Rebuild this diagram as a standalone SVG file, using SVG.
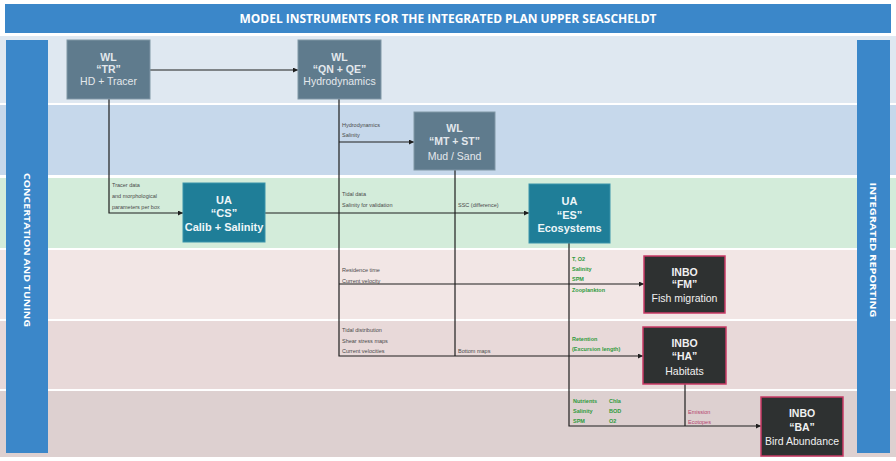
<svg xmlns="http://www.w3.org/2000/svg" width="896" height="461" viewBox="0 0 896 461">
  <defs>
    <marker id="arrow" viewBox="0 0 6 6" refX="6" refY="3" markerWidth="5" markerHeight="5" markerUnits="userSpaceOnUse" orient="auto">
      <path d="M0,0 L6,3 L0,6 Z" fill="#1e1e1e"/>
    </marker>
    <style>
      .band { stroke: none; }
      .bar { fill: #3b87c9; }
      .bar-text { font-family: "Open Sans", "Liberation Sans", sans-serif; font-weight: bold; fill: #ffffff; }
      .wl rect { fill: #5f7b8d; stroke: #8097a6; stroke-width: 1; }
      .ua rect { fill: #1f7e98; stroke: #3a93aa; stroke-width: 1; }
      .inbo rect { fill: #2e3131; stroke: #c93a65; stroke-width: 1.5; }
      .node text { font-family: "Liberation Sans", Arial, sans-serif; text-anchor: middle; font-size: 10.5px; }
      .wl text { fill: #e3e8ec; }
      .ua text { fill: #eef6f8; font-weight: bold; font-size: 11px; }
      .inbo text { fill: #f0f0f0; }
      .b { font-weight: bold; }
      .conn path { fill: none; stroke: #1e1e1e; stroke-width: 1.2; }
      .lbl { font-family: "Liberation Sans", Arial, sans-serif; font-size: 5.5px; fill: #4a4a4a; }
      .lbl.g { fill: #2f9a3c; font-weight: bold; }
      .lbl.p { fill: #b4436e; }
    </style>
  </defs>

  <!-- background -->
  <rect x="0" y="0" width="896" height="461" fill="#ffffff"/>

  <!-- horizontal swim bands -->
  <rect class="band" x="0" y="36" width="896" height="67" fill="#dfe8f1"/>
  <rect class="band" x="0" y="105" width="896" height="70" fill="#c6d8eb"/>
  <rect class="band" x="0" y="178" width="896" height="70" fill="#d3ecda"/>
  <rect class="band" x="0" y="250" width="896" height="69" fill="#f2e6e5"/>
  <rect class="band" x="0" y="321" width="896" height="68" fill="#e8d9d9"/>
  <rect class="band" x="0" y="391" width="896" height="66" fill="#ddd0d0"/>

  <!-- title bar -->
  <rect class="bar" x="5" y="4" width="886" height="29"/>
  <text class="bar-text" x="448" y="23" font-size="11.5" text-anchor="middle" textLength="417" lengthAdjust="spacingAndGlyphs">MODEL INSTRUMENTS FOR THE INTEGRATED PLAN UPPER SEASCHELDT</text>

  <!-- side bars -->
  <rect class="bar" x="6" y="40" width="42" height="413"/>
  <text class="bar-text" x="0" y="0" font-size="9.5" text-anchor="middle" transform="translate(24,250) rotate(90)" textLength="154" lengthAdjust="spacingAndGlyphs">CONCERTATION AND TUNING</text>
  <rect class="bar" x="857" y="40" width="33" height="413"/>
  <text class="bar-text" x="0" y="0" font-size="9.5" text-anchor="middle" transform="translate(870,250) rotate(90)" textLength="135" lengthAdjust="spacingAndGlyphs">INTEGRATED REPORTING</text>

  <!-- connectors -->
  <g id="connectors" class="conn">
    <path d="M150,70 H298" marker-end="url(#arrow)"/>
    <path d="M109,99 V213 H183" marker-end="url(#arrow)"/>
    <path d="M265,213 H529" marker-end="url(#arrow)"/>
    <path d="M339,99 V356 H643" marker-end="url(#arrow)"/>
    <path d="M339,142 H414" marker-end="url(#arrow)"/>
    <path d="M339,284 H644" marker-end="url(#arrow)"/>
    <path d="M455,170 V356"/>
    <path d="M569,243 V426 H761" marker-end="url(#arrow)"/>
    <path d="M685,384 V426"/>
  </g>

  <!-- connector labels -->
  <g id="labels">
    <text class="lbl" x="112" y="187">Tracer data</text>
    <text class="lbl" x="112" y="197.5">and morphological</text>
    <text class="lbl" x="112" y="208.5">parameters per box</text>

    <text class="lbl" x="342" y="127">Hydrodynamics</text>
    <text class="lbl" x="342" y="136.5">Salinity</text>

    <text class="lbl" x="342" y="195.5">Tidal data</text>
    <text class="lbl" x="342" y="207">Salinity for validation</text>
    <text class="lbl" x="458" y="207">SSC (difference)</text>

    <text class="lbl" x="342" y="272">Residence time</text>
    <text class="lbl" x="342" y="282.5">Current velocity</text>

    <text class="lbl" x="342" y="332">Tidal distribution</text>
    <text class="lbl" x="342" y="342.5">Shear stress maps</text>
    <text class="lbl" x="342" y="353">Current velocities</text>
    <text class="lbl" x="458" y="353">Bottom maps</text>

    <text class="lbl g" x="572" y="261">T, O2</text>
    <text class="lbl g" x="572" y="271">Salinity</text>
    <text class="lbl g" x="572" y="281">SPM</text>
    <text class="lbl g" x="572" y="292">Zooplankton</text>

    <text class="lbl g" x="572" y="341">Retention</text>
    <text class="lbl g" x="572" y="351">(Excursion length)</text>

    <text class="lbl g" x="573" y="403">Nutrients</text>
    <text class="lbl g" x="573" y="413">Salinity</text>
    <text class="lbl g" x="573" y="423">SPM</text>
    <text class="lbl g" x="609" y="403">Chla</text>
    <text class="lbl g" x="609" y="413">BOD</text>
    <text class="lbl g" x="609" y="423">O2</text>

    <text class="lbl p" x="688" y="413.5">Emission</text>
    <text class="lbl p" x="688" y="424">Ecotopes</text>
  </g>

  <!-- nodes -->
  <g id="wl-tr" class="node wl">
    <rect x="67" y="40" width="83" height="59"/>
    <text x="108.5" y="60.5" class="b">WL</text>
    <text x="108.5" y="73" class="b">“TR”</text>
    <text x="108.5" y="85">HD + Tracer</text>
  </g>

  <g id="wl-qnqe" class="node wl">
    <rect x="298" y="40" width="83" height="59"/>
    <text x="339.5" y="60.5" class="b">WL</text>
    <text x="339.5" y="73" class="b">“QN + QE”</text>
    <text x="339.5" y="85">Hydrodynamics</text>
  </g>

  <g id="wl-mtst" class="node wl">
    <rect x="414" y="112" width="81" height="58"/>
    <text x="454.5" y="132" class="b">WL</text>
    <text x="454.5" y="145" class="b">“MT + ST”</text>
    <text x="454.5" y="159.5">Mud / Sand</text>
  </g>

  <g id="ua-cs" class="node ua">
    <rect x="183" y="183" width="82" height="59"/>
    <text x="224" y="204">UA</text>
    <text x="224" y="217">“CS”</text>
    <text x="224" y="231">Calib + Salinity</text>
  </g>

  <g id="ua-es" class="node ua">
    <rect x="529" y="184" width="81" height="59"/>
    <text x="569.5" y="204.5">UA</text>
    <text x="569.5" y="219">“ES”</text>
    <text x="569.5" y="232">Ecosystems</text>
  </g>

  <g id="inbo-fm" class="node inbo">
    <rect x="644" y="256" width="81" height="57"/>
    <text x="684.5" y="275.5" class="b">INBO</text>
    <text x="684.5" y="287.5" class="b">“FM”</text>
    <text x="684.5" y="302">Fish migration</text>
  </g>

  <g id="inbo-ha" class="node inbo">
    <rect x="643" y="327" width="83" height="57"/>
    <text x="684.5" y="346.5" class="b">INBO</text>
    <text x="684.5" y="359.5" class="b">“HA”</text>
    <text x="684.5" y="374.5">Habitats</text>
  </g>

  <g id="inbo-ba" class="node inbo">
    <rect x="761" y="397" width="82" height="59"/>
    <text x="802" y="417" class="b">INBO</text>
    <text x="802" y="430.5" class="b">“BA”</text>
    <text x="802" y="445">Bird Abundance</text>
  </g>
</svg>
